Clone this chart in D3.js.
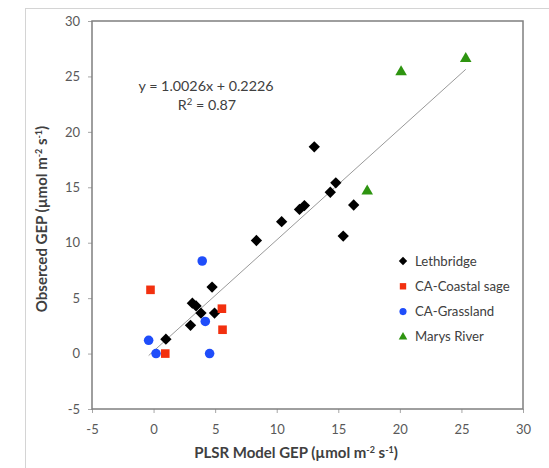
<!DOCTYPE html>
<html>
<head>
<meta charset="utf-8">
<script src="https://cdn.jsdelivr.net/npm/d3@7"></script>
<style>
  body { margin: 0; background: #fff; }
  text { font-family: Lato, "Open Sans", sans-serif; }
</style>
</head>
<body>
<svg id="screen" width="549" height="468"></svg>
<script>
// tick labels
const xTicks = [-5, 0, 5, 10, 15, 20, 25, 30];
const yTicks = [-5, 0, 5, 10, 15, 20, 25, 30];

// series values, [model, observed]
const lethbridge = [[1.0, 1.3], [3.0, 2.55], [3.15, 4.55], [3.45, 4.3], [3.85, 3.65], [4.95, 3.65],
  [4.75, 6.0], [8.35, 10.2], [10.4, 11.9], [11.85, 13.0], [12.25, 13.35], [13.05, 18.65],
  [14.35, 14.55], [14.8, 15.4], [15.4, 10.6], [16.25, 13.4]];
const coastalSage = [[-0.25, 5.75], [5.55, 4.05], [5.6, 2.15], [0.95, 0.0]];
const grassland = [[3.95, 8.35], [4.2, 2.9], [-0.4, 1.2], [0.2, 0.0], [4.55, 0.0]];
const marysRiver = [[17.35, 14.65], [20.1, 25.4], [25.35, 26.6]];

const seriesNames = ["Lethbridge", "CA-Coastal sage", "CA-Grassland", "Marys River"];
const fit = { slope: 1.0026, intercept: 0.2226, r2: 0.87 };

const series = [
  { name: seriesNames[0], pts: lethbridge, color: "#000000", sym: "diamond" },
  { name: seriesNames[1], pts: coastalSage, color: "#f2300f", sym: "square" },
  { name: seriesNames[2], pts: grassland, color: "#1f4dfa", sym: "circle" },
  { name: seriesNames[3], pts: marysRiver, color: "#2e9410", sym: "triangle" }
];

const svg = d3.select("#screen");

const x = d3.scaleLinear().domain([-5, 30]).range([92, 523]);
const y = d3.scaleLinear().domain([-5, 30]).range([409, 21]);

// outer chart frame
svg.append("rect")
  .attr("x", 25.5).attr("y", 8.5).attr("width", 560).attr("height", 500)
  .attr("fill", "none").attr("stroke", "#d4d4d4").attr("stroke-width", 1);

function symbolPath(sym, big) {
  const k = big ? 1 : 0.55;
  if (sym === "diamond") return d3.symbol(d3.symbolSquare, 64 * k)();
  if (sym === "square") return d3.symbol(d3.symbolSquare, 74 * k)();
  if (sym === "circle") return d3.symbol(d3.symbolCircle, 72 * k)();
  return d3.symbol(d3.symbolTriangle, 58 * k)();
}

// axes
const xAxis = svg.append("g")
  .attr("transform", "translate(0,409)")
  .call(d3.axisBottom(x).tickValues(xTicks).tickFormat(d => String(d)).tickSize(4).tickPadding(12));
const yAxis = svg.append("g")
  .attr("transform", "translate(92,0)")
  .call(d3.axisLeft(y).tickValues(yTicks).tickFormat(d => String(d)).tickSize(4).tickPadding(8));

[xAxis, yAxis].forEach(a => {
  a.select(".domain").remove();
  a.selectAll(".tick line").attr("stroke", "#a6a6a6");
  a.selectAll(".tick text")
    .attr("fill", "#595959")
    .style("font-size", "13px")
    .style("font-family", "Lato, sans-serif");
});

// plot frame
svg.append("rect")
  .attr("x", x(-5)).attr("y", y(30))
  .attr("width", x(30) - x(-5)).attr("height", y(-5) - y(30))
  .attr("fill", "none").attr("stroke", "#7f7f7f").attr("stroke-width", 1.5);

// trend line over the data range
const allX = series.flatMap(s => s.pts.map(p => p[0]));
const xMin = d3.min(allX), xMax = d3.max(allX);
svg.append("line")
  .attr("x1", x(xMin)).attr("y1", y(fit.slope * xMin + fit.intercept))
  .attr("x2", x(xMax)).attr("y2", y(fit.slope * xMax + fit.intercept))
  .attr("stroke", "#999999").attr("stroke-width", 1);

// points
series.forEach(s => {
  svg.append("g").selectAll("path")
    .data(s.pts)
    .enter()
    .append("path")
    .attr("d", symbolPath(s.sym, true))
    .attr("transform", d => "translate(" + x(d[0]) + "," + y(d[1]) + ")" + (s.sym === "diamond" ? " rotate(45)" : ""))
    .attr("fill", s.color);
});

// equation
svg.append("text")
  .attr("x", 206).attr("y", 91)
  .attr("text-anchor", "middle")
  .attr("fill", "#404040")
  .style("font-size", "14.3px")
  .text("y = " + fit.slope.toFixed(4) + "x + " + fit.intercept.toFixed(4));
const r2 = svg.append("text")
  .attr("x", 207).attr("y", 110)
  .attr("text-anchor", "middle")
  .attr("fill", "#404040")
  .style("font-size", "14.3px");
r2.append("tspan").text("R");
r2.append("tspan").attr("dy", -5).style("font-size", "9.5px").text("2");
r2.append("tspan").attr("dy", 5).text(" = " + fit.r2.toFixed(2));

// legend
const legend = svg.append("g").selectAll("g")
  .data(series)
  .enter()
  .append("g")
  .attr("transform", (d, i) => "translate(403," + (261 + i * 25.3) + ")");
legend.append("path")
  .attr("d", d => symbolPath(d.sym, false))
  .attr("transform", d => d.sym === "diamond" ? "rotate(45)" : "")
  .attr("fill", d => d.color);
legend.append("text")
  .attr("x", 12).attr("y", 4.5)
  .attr("fill", "#404040")
  .style("font-size", "13.2px")
  .text(d => d.name);

// axis titles
function unitTitle(sel, lead) {
  sel.append("tspan").text(lead + " (\u00b5mol m");
  sel.append("tspan").attr("dy", -5).style("font-size", "9px").text("-2");
  sel.append("tspan").attr("dy", 5).text(" s");
  sel.append("tspan").attr("dy", -5).style("font-size", "9px").text("-1");
  sel.append("tspan").attr("dy", 5).text(")");
}
const xt = svg.append("text")
  .attr("x", 296).attr("y", 458)
  .attr("text-anchor", "middle")
  .attr("fill", "#404040")
  .style("font-size", "15px").style("font-weight", "bold");
unitTitle(xt, "PLSR Model GEP");
const yt = svg.append("text")
  .attr("transform", "translate(47,219) rotate(-90)")
  .attr("text-anchor", "middle")
  .attr("fill", "#404040")
  .style("font-size", "15px").style("font-weight", "bold");
unitTitle(yt, "Obserced GEP");
</script>
</body>
</html>
